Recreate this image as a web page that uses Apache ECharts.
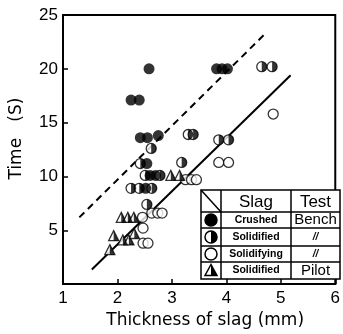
<!DOCTYPE html>
<html>
<head>
<meta charset="utf-8">
<script src="https://cdn.jsdelivr.net/npm/echarts@6/dist/echarts.min.js"></script>
<style>
  html, body { margin: 0; padding: 0; background: #fff; }
  #chart { width: 343px; height: 334px; }
</style>
</head>
<body>
<div id="chart"></div>
<script>
// values: [thickness (mm), time (s)]
const crushed = [
  [2.58, 20.0], [3.82, 20.0], [3.92, 20.0], [4.02, 20.0],
  [2.25, 17.1], [2.40, 17.1],
  [2.42, 13.6], [2.55, 13.6], [2.75, 13.8],
  [2.54, 11.2], [2.60, 10.1], [2.70, 10.1], [2.52, 8.9]
];
const solidifiedBench = [
  [4.65, 20.2], [4.84, 20.2],
  [3.30, 13.9], [3.39, 13.9], [3.86, 13.4], [4.04, 13.4],
  [2.62, 12.6], [3.18, 11.3], [2.42, 11.2],
  [2.51, 10.1], [2.78, 10.1],
  [2.25, 8.9], [2.40, 8.9], [2.63, 8.9],
  [2.54, 7.4]
];
const solidifying = [
  [4.86, 15.8], [3.86, 11.3], [4.04, 11.3],
  [3.25, 9.7], [3.36, 9.7], [3.45, 9.7],
  [2.63, 6.6], [2.74, 6.6], [2.82, 6.6],
  [2.46, 6.2], [2.47, 5.2],
  [2.47, 3.8], [2.56, 3.8]
];
const solidifiedPilot = [
  [2.98, 10.1], [3.14, 10.1],
  [2.07, 6.2], [2.19, 6.2], [2.30, 6.2],
  [1.93, 4.5], [2.10, 4.1], [2.21, 4.1], [2.31, 4.7],
  [1.86, 3.2]
];
const solidLine = [[1.53, 1.35], [5.18, 19.4]];
const dashedLine = [[1.30, 6.2], [4.70, 23.2]];

const xTicks = [1, 6, 1];   // min, max, step
const yTicks = [0, 25, 5];

const tableRows = [
  { slag: "Crushed", test: "Bench", icon: "filled" },
  { slag: "Solidified", test: "//", icon: "half" },
  { slag: "Solidifying", test: "//", icon: "open" },
  { slag: "Solidified", test: "Pilot", icon: "triangle" }
];

const chart = echarts.init(document.getElementById("chart"));

const font = "Liberation Sans";
const titleFont = "DejaVu Sans";
const halfCircle = "path://M0,0A10,10,0,0,1,0,20Z";
const halfTriangle = "path://M0,0L10,20L0,20Z";

// legend table drawn as graphic
const tLeft = 201, tTop = 190, tRight = 340, tBottom = 279;
const colIcon = 221, colTest = 291;
const rowLines = [212, 228, 246, 262];
const rowEdges = [212, 228, 246, 262, 279];
const line = (x1, y1, x2, y2) => ({
  type: "line",
  shape: { x1, y1, x2, y2 },
  style: { stroke: "#000", lineWidth: 1.5 },
  z: 100
});
const graphics = [
  {
    type: "rect",
    shape: { x: tLeft, y: tTop, width: tRight - tLeft, height: tBottom - tTop },
    style: { fill: "#fff", stroke: "#000", lineWidth: 1.5 },
    z: 99
  },
  line(colIcon, tTop, colIcon, tBottom),
  line(colTest, tTop, colTest, tBottom),
  line(tLeft, tTop, colIcon, rowLines[0]),
  ...rowLines.map((y) => line(tLeft, y, tRight, y)),
  {
    type: "text", z: 101,
    style: { text: "Slag", x: (colIcon + colTest) / 2, y: 202, align: "center", verticalAlign: "middle", font: "17px " + font, fill: "#000" }
  },
  {
    type: "text", z: 101,
    style: { text: "Test", x: (colTest + tRight) / 2, y: 202, align: "center", verticalAlign: "middle", font: "17px " + font, fill: "#000" }
  }
];
tableRows.forEach((r, i) => {
  const cy = (rowEdges[i] + rowEdges[i + 1]) / 2;
  const cx = (tLeft + colIcon) / 2;
  graphics.push({
    type: "text", z: 101,
    style: { text: r.slag, x: (colIcon + colTest) / 2, y: cy, align: "center", verticalAlign: "middle", font: "bold 10.5px " + font, fill: "#000" }
  });
  graphics.push({
    type: "text", z: 101,
    style: {
      text: r.test, x: (colTest + tRight) / 2, y: cy, align: "center", verticalAlign: "middle",
      font: (r.test === "//" ? "italic bold 10px " : "15px ") + font, fill: "#000"
    }
  });
  if (r.icon === "triangle") {
    graphics.push({
      type: "polygon", z: 101,
      shape: { points: [[cx, cy - 6], [cx + 6, cy + 5], [cx - 6, cy + 5]] },
      style: { fill: "#fff", stroke: "#000", lineWidth: 1.5 }
    });
    graphics.push({
      type: "polygon", z: 102,
      shape: { points: [[cx, cy - 6], [cx + 6, cy + 5], [cx, cy + 5]] },
      style: { fill: "#000" }
    });
  } else {
    graphics.push({
      type: "circle", z: 101,
      shape: { cx, cy, r: 6 },
      style: { fill: r.icon === "filled" ? "#000" : "#fff", stroke: "#000", lineWidth: 1.5 }
    });
    if (r.icon === "half") {
      graphics.push({
        type: "sector", z: 102,
        shape: { cx, cy, r: 6, startAngle: -Math.PI / 2, endAngle: Math.PI / 2 },
        style: { fill: "#000" }
      });
    }
  }
});

const openStyle = { color: "#fff", borderColor: "#000", borderWidth: 1.3 };

chart.setOption({
  animation: false,
  grid: {
    left: 59, top: 15, right: 3, bottom: 42,
    show: true, borderColor: "#000", borderWidth: 2, backgroundColor: "transparent"
  },
  xAxis: {
    type: "value",
    min: xTicks[0], max: xTicks[1], interval: xTicks[2],
    name: "Thickness of slag (mm)",
    nameLocation: "middle",
    nameGap: 26,
    nameTextStyle: { fontFamily: titleFont, fontSize: 17, color: "#000", padding: [0, 0, 0, 12] },
    axisLine: { show: true, lineStyle: { color: "#000", width: 2 } },
    axisTick: { show: true, inside: true, length: 5, lineStyle: { color: "#000", width: 1.5 } },
    axisLabel: { fontFamily: font, fontSize: 17, color: "#000", margin: 6 },
    splitLine: { show: false }
  },
  yAxis: {
    type: "value",
    min: yTicks[0], max: yTicks[1], interval: yTicks[2],
    name: "Time   (S)",
    nameLocation: "middle",
    nameGap: 38,
    nameTextStyle: { fontFamily: titleFont, fontSize: 17, color: "#000", padding: [0, 0, 0, 22] },
    axisLine: { show: true, lineStyle: { color: "#000", width: 2 } },
    axisTick: { show: true, inside: true, length: 5, lineStyle: { color: "#000", width: 1.5 } },
    axisLabel: {
      fontFamily: font, fontSize: 17, color: "#000", margin: 5,
      formatter: (v) => (v === 0 ? "" : String(v))
    },
    splitLine: { show: false }
  },
  series: [
    {
      type: "line", data: dashedLine, symbol: "none", silent: true,
      lineStyle: { color: "#000", width: 2, type: [7, 5] }
    },
    {
      type: "line", data: solidLine, symbol: "none", silent: true,
      lineStyle: { color: "#000", width: 2 }
    },
    {
      type: "scatter", data: solidifying, symbol: "circle", symbolSize: 10,
      itemStyle: openStyle, z: 3
    },
    {
      type: "scatter", data: solidifiedBench, symbol: "circle", symbolSize: 10,
      itemStyle: openStyle, z: 3
    },
    {
      type: "scatter", data: solidifiedBench, symbol: halfCircle, symbolSize: [5, 10],
      symbolOffset: [2.5, 0], itemStyle: { color: "#000" }, z: 4
    },
    {
      type: "scatter", data: crushed, symbol: "circle", symbolSize: 11,
      itemStyle: { color: "#000" }, z: 5
    },
    {
      type: "scatter", data: solidifiedPilot, symbol: "triangle", symbolSize: 10,
      itemStyle: openStyle, z: 3
    },
    {
      type: "scatter", data: solidifiedPilot, symbol: halfTriangle, symbolSize: [5, 10],
      symbolOffset: [2.5, 0], itemStyle: { color: "#000" }, z: 4
    }
  ],
  graphic: graphics
});
</script>
</body>
</html>
